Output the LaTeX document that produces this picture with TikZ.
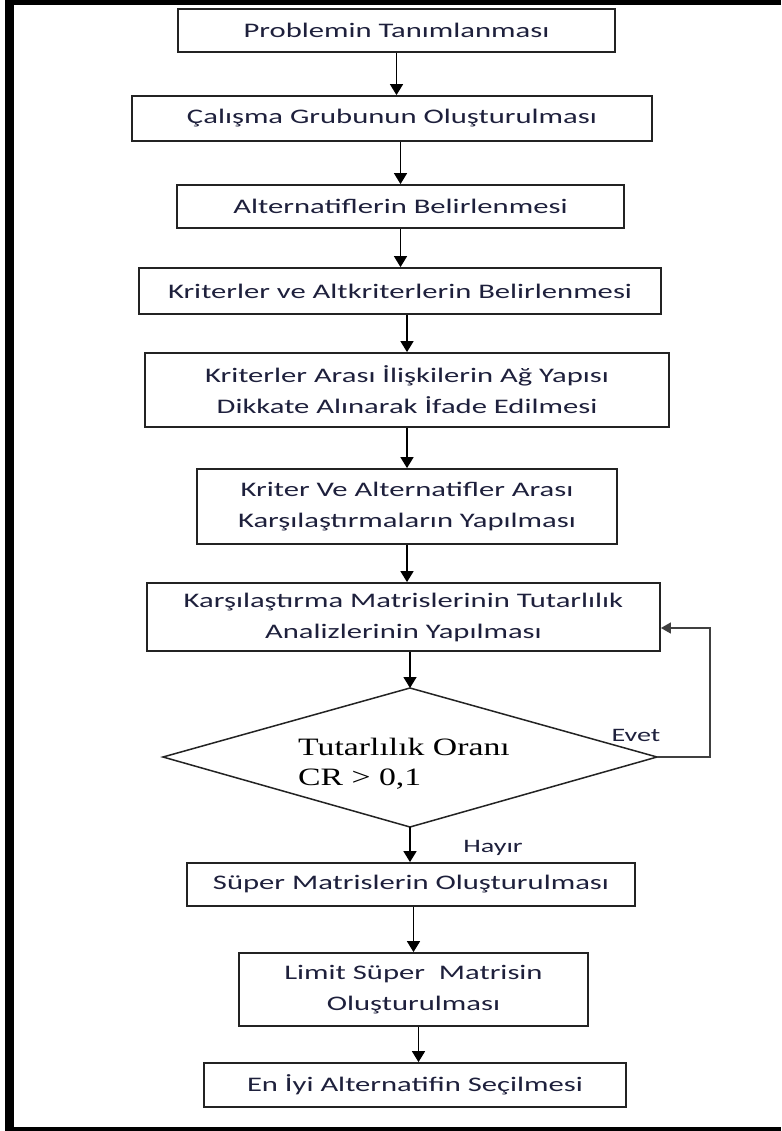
\documentclass[tikz,border=0pt]{standalone}
\usepackage{fontspec}
\usetikzlibrary{arrows.meta,calc}
\newfontfamily\boxfont{Carlito}[FakeStretch=1.48]
\newfontfamily\serifbox{Liberation Serif}[FakeStretch=1.35]
\definecolor{ink}{RGB}{30,32,60}
\definecolor{edge}{RGB}{35,35,35}
\begin{document}
\begin{tikzpicture}[x=1pt,y=-1pt,
  stepbox/.style={draw=edge, line width=1.8pt, fill=white, inner sep=0pt,
    align=center, text=ink, font=\boxfont\fontsize{20.7}{31}\selectfont},
  arr/.style={-{Triangle[width=13pt,length=11pt]}, line width=1.6pt, draw=black},
  looparr/.style={-{Triangle[width=11pt,length=10pt]}, line width=1.5pt, draw=black!75},
  answer/.style={text=ink, inner sep=0pt, font=\boxfont\fontsize{19}{23}\selectfont}]

% page and frame
\path[use as bounding box, fill=white] (0,0) rectangle (781,1131);
\fill[black] (5,0) rectangle (14,1131);
\fill[black] (5,0) rectangle (781,5);
\fill[black] (5,1127) rectangle (781,1131);

% process steps
\node[stepbox, minimum width=437pt, minimum height=43pt] (B1) at (396.5,30.5) {Problemin Tanımlanması};
\node[stepbox, minimum width=520pt, minimum height=45pt] (B2) at (392,118.5) {Çalışma Grubunun Oluşturulması};
\node[stepbox, minimum width=447pt, minimum height=43pt] (B3) at (400.5,206.5) {Alternatiflerin Belirlenmesi};
\node[stepbox, minimum width=522pt, minimum height=46pt] (B4) at (400,291) {Kriterler ve Altkriterlerin Belirlenmesi};
\node[stepbox, minimum width=524pt, minimum height=74pt] (B5) at (407,390) {Kriterler Arası İlişkilerin Ağ Yapısı\\Dikkate Alınarak İfade Edilmesi};
\node[stepbox, minimum width=420pt, minimum height=75pt] (B6) at (407,506.5) {Kriter Ve Alternatifler Arası\\Karşılaştırmaların Yapılması};
\node[stepbox, minimum width=513pt, minimum height=68pt] (B7) at (403.5,617) {Karşılaştırma Matrislerinin Tutarlılık\\Analizlerinin Yapılması};

% consistency check
\coordinate (Dt) at (410,688);
\coordinate (Dr) at (657,757);
\coordinate (Db) at (410,827);
\coordinate (Dl) at (163,757);
\draw[line width=1.5pt, draw=edge] (Dt) -- (Dr) -- (Db) -- (Dl) -- cycle;
\node[anchor=west, align=left, inner sep=0pt, text=black,
  font=\serifbox\fontsize{25}{30}\selectfont] (Dtxt) at (298,764) {Tutarlılık Oranı\\CR > 0,1};

\node[stepbox, minimum width=448pt, minimum height=43pt] (B8) at (411,884.5) {Süper Matrislerin Oluşturulması};
\node[stepbox, minimum width=349pt, minimum height=73pt] (B9) at (413.5,989.5) {Limit Süper\ \ Matrisin\\Oluşturulması};
\node[stepbox, minimum width=422pt, minimum height=44pt] (B10) at (415,1085) {En İyi Alternatifin Seçilmesi};

% answers
\node[answer] (evet) at (636,735) {Evet};
\node[answer] (hayir) at (493,848) {Hayır};

% connectors
\draw[arr] (B1.south) -- (B1.south |- B2.north);
\draw[arr] (B2.south -| B3.north) -- (B3.north);
\draw[arr] (B3.south) -- (B3.south |- B4.north);
\draw[arr] (B4.south -| B5.north) -- (B5.north);
\draw[arr] (B5.south) -- (B6.north);
\draw[arr] (B6.south) -- (B6.south |- B7.north);
\draw[arr] (B7.south -| Dt) -- (Dt);
\draw[arr] (Db) -- (Db |- B8.north);
\draw[arr] (B8.south -| B9.north) -- (B9.north);
\draw[arr] ([xshift=5pt]B9.south) -- ([xshift=5pt]B9.south |- B10.north);

% repeat loop
\coordinate (loop) at (710,628);
\draw[looparr] (Dr) -| (loop) -- (B7.east |- loop);
\end{tikzpicture}
\end{document}
